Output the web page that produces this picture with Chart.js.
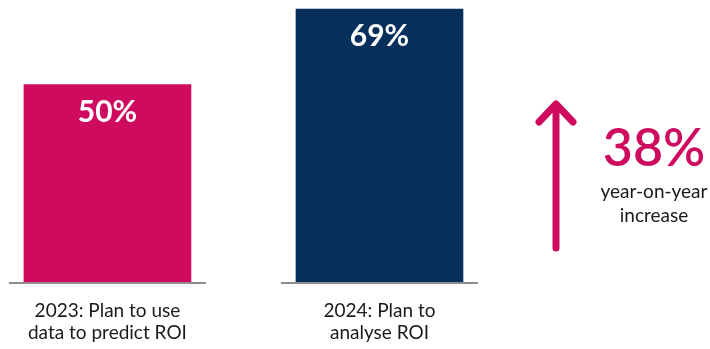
<!DOCTYPE html>
<html>
<head>
<meta charset="utf-8">
<script src="https://cdn.jsdelivr.net/npm/chart.js@4/dist/chart.umd.min.js"></script>
<style>
  html, body { margin: 0; padding: 0; background: #fff; }
  #wrap { position: relative; width: 710px; height: 349px; }
</style>
</head>
<body>
<div id="wrap"><canvas id="roiChart" width="710" height="349"></canvas></div>
<script>
// --- dados ---
const categorias = [
  ['2023: Plan to use', 'data to predict ROI'],
  ['2024: Plan to', 'analyse ROI'],
];
const posicoes = [0, 1];
const percentuais = [50, 69];
const coresBarras = ['#cf0b60', '#062f5b'];
const aumento = 38;
const aumentoTexto = ['year-on-year', 'increase'];

const MAGENTA = '#cf0b60';
const FONTE = 'Lato, "Open Sans", sans-serif';

// rótulo branco dentro de cada barra e linha de base por barra
const barDecor = {
  id: 'barDecor',
  afterDatasetsDraw(chart) {
    const { ctx, chartArea } = chart;
    const meta = chart.getDatasetMeta(0);
    ctx.save();
    meta.data.forEach((bar, i) => {
      ctx.strokeStyle = '#8c8c8c';
      ctx.lineWidth = 2;
      ctx.beginPath();
      ctx.moveTo(bar.x - 98.5, chartArea.bottom);
      ctx.lineTo(bar.x + 98.5, chartArea.bottom);
      ctx.stroke();

      ctx.fillStyle = '#fff';
      ctx.font = `bold 30px ${FONTE}`;
      ctx.textAlign = 'center';
      ctx.textBaseline = 'alphabetic';
      ctx.fillText(`${percentuais[i]}%`, bar.x, bar.y + 37);
    });
    ctx.restore();
  },
};

// seta de crescimento e destaque à direita
const destaque = {
  id: 'destaque',
  afterDraw(chart) {
    const { ctx } = chart;
    ctx.save();
    ctx.strokeStyle = MAGENTA;
    ctx.lineWidth = 7;
    ctx.lineCap = 'round';
    ctx.lineJoin = 'round';
    ctx.beginPath();
    ctx.moveTo(556, 248);
    ctx.lineTo(556, 104);
    ctx.moveTo(539, 122);
    ctx.lineTo(556, 104);
    ctx.lineTo(573, 122);
    ctx.stroke();

    ctx.textAlign = 'center';
    ctx.textBaseline = 'alphabetic';
    ctx.fillStyle = MAGENTA;
    ctx.font = `600 52px ${FONTE}`;
    ctx.fillText(`${aumento}%`, 654, 166);

    ctx.fillStyle = '#1a1a1a';
    ctx.font = `19px ${FONTE}`;
    ctx.fillText(aumentoTexto[0], 654, 198);
    ctx.fillText(aumentoTexto[1], 654, 222);
    ctx.restore();
  },
};

const ctx = document.getElementById('roiChart').getContext('2d');
new Chart(ctx, {
  type: 'bar',
  data: {
    datasets: [
      {
        data: posicoes.map((x, i) => ({ x, y: percentuais[i] })),
        backgroundColor: coresBarras,
        barThickness: 167,
        borderWidth: 0,
      },
    ],
  },
  options: {
    responsive: false,
    animation: false,
    layout: { padding: 0 },
    plugins: { legend: { display: false }, tooltip: { enabled: false } },
    scales: {
      x: {
        type: 'linear',
        offset: false,
        min: -0.395,
        max: 2.215,
        grid: { display: false, drawTicks: false, offset: false },
        border: { display: false },
        afterBuildTicks(scale) {
          scale.ticks = posicoes.map((v) => ({ value: v }));
        },
        afterFit(scale) {
          scale.height = 66;
        },
        ticks: {
          autoSkip: false,
          maxRotation: 0,
          padding: 16,
          color: '#1a1a1a',
          font: { family: FONTE, size: 19, lineHeight: 1.2 },
          callback: (v) => categorias[posicoes.indexOf(v)] ?? '',
        },
      },
      y: {
        display: false,
        min: 0,
        max: 71.3,
      },
    },
  },
  plugins: [barDecor, destaque],
});
</script>
</body>
</html>
